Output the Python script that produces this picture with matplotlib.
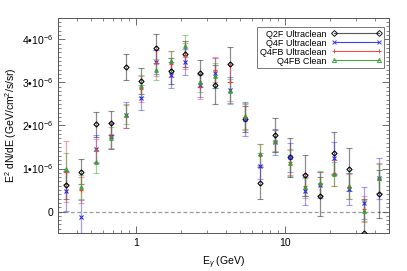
import numpy as np
import matplotlib
matplotlib.use("Agg")
import matplotlib.pyplot as plt
from matplotlib.lines import Line2D
from matplotlib.ticker import FixedLocator, FuncFormatter, MultipleLocator, NullFormatter

plt.rcParams['font.family'] = ['Liberation Sans', 'DejaVu Sans']
plt.rcParams['mathtext.fontset'] = 'custom'
plt.rcParams['mathtext.rm'] = 'Liberation Sans'
plt.rcParams['mathtext.it'] = 'Liberation Sans:italic'

## Energy bin centres (GeV)
energy = [0.34, 0.43, 0.54, 0.68, 0.86, 1.08, 1.36, 1.71, 2.15, 2.71, 3.41,
          4.29, 5.40, 6.80, 8.56, 10.8, 13.6, 17.1, 21.5, 27.1, 34.1, 42.9]

## E^2 dN/dE in units of 1e-6 GeV/cm^2/s/sr
q2f_val = [0.61, 0.93, 2.03, 2.06, 3.35, 3.03, 3.79, 3.27, 3.67, 3.21, 2.95,
           3.42, 2.15, 0.66, 1.78, 1.26, 0.84, 0.35, 1.36, 0.98, -0.50, 0.41]
q2f_err = [0.33, 0.30, 0.29, 0.28, 0.30, 0.30, 0.33, 0.30, 0.30, 0.32, 0.45,
           0.40, 0.30, 0.38, 0.40, 0.45, 0.48, 0.45, 0.48, 0.50, 0.80, 0.55]

q4f_val = [0.47, -0.12, 1.45, 1.76, 2.25, 2.65, 3.48, 3.18, 3.47, 2.93, 3.22,
           2.83, 2.15, 1.05, 1.62, 1.26, 0.48, 0.61, 1.24, 0.52, 0.19, 0.77]
q4f_err = [0.45, 0.38, 0.33, 0.30, 0.30, 0.30, 0.28, 0.30, 0.30, 0.27, 0.35,
           0.30, 0.40, 0.30, 0.30, 0.33, 0.32, 0.30, 0.38, 0.37, 0.37, 0.47]

q4fbu_val = [0.93, 0.50, 1.42, 1.75, 2.22, 2.85, 3.45, 3.42, 3.62, 2.90, 3.30,
             3.00, 2.20, 1.32, 1.65, 1.15, 0.60, 0.65, 0.90, 0.58, 0.05, 0.78]
q4fbu_err = [0.70, 0.30, 0.27, 0.30, 0.28, 0.30, 0.30, 0.30, 0.30, 0.28, 0.30,
             0.42, 0.30, 0.26, 0.25, 0.30, 0.28, 0.28, 0.30, 0.30, 0.30, 0.35]

q4fbc_val = [1.00, 0.56, 1.15, 1.72, 2.25, 2.92, 3.30, 3.50, 3.85, 3.00, 3.16,
             2.79, 2.22, 1.33, 1.64, 1.12, 0.57, 0.66, 0.87, 0.59, 0.02, 0.77]
q4fbc_err = [0.36, 0.28, 0.25, 0.25, 0.22, 0.25, 0.25, 0.22, 0.25, 0.22, 0.30,
             0.30, 0.30, 0.25, 0.25, 0.30, 0.22, 0.28, 0.28, 0.30, 0.25, 0.33]

labels = ['Q2F Ultraclean', 'Q4F Ultraclean', 'Q4FB Ultraclean', 'Q4FB Clean']
colors = ['black', '#2a2af0', '#f03c3c', '#2ca02c']
markers = ['D', 'x', '+', '^']
series = [(q2f_val, q2f_err), (q4f_val, q4f_err),
          (q4fbu_val, q4fbu_err), (q4fbc_val, q4fbc_err)]

fig = plt.figure(figsize=(4.07, 2.71), dpi=100)
ax = fig.add_axes([0.1425, 0.140, 0.8135, 0.794])

ax.axhline(0, color='#999999', lw=0.9, ls=(0, (3, 2)), zorder=1)

for (val, err), col, mk in zip(series, colors, markers):
    y = np.array(val) * 1e-6
    e = np.array(err) * 1e-6
    ax.errorbar(energy, y, yerr=e, fmt='none', ecolor=col, alpha=0.45,
                elinewidth=0.9, capsize=2.2, capthick=0.8, zorder=2)
    filled = 'none' if mk in ('D', '^') else col
    ax.plot(energy, y, ls='none', marker=mk, ms=2.6, mew=0.8,
            mec=col, mfc=filled, zorder=3)

ax.set_xscale('log')
ax.set_xlim(0.3, 50)
ax.set_ylim(-0.5e-6, 4.5e-6)

ax.xaxis.set_major_locator(FixedLocator([1, 10]))
ax.xaxis.set_major_formatter(FuncFormatter(lambda v, p: f"{v:g}"))
minors = [0.3, 0.4, 0.5, 0.6, 0.7, 0.8, 0.9, 2, 3, 4, 5, 6, 7, 8, 9, 20, 30, 40, 50]
ax.xaxis.set_minor_locator(FixedLocator(minors))
ax.xaxis.set_minor_formatter(NullFormatter())

ax.yaxis.set_major_locator(MultipleLocator(1e-6))
ax.yaxis.set_minor_locator(MultipleLocator(1e-7))


def yfmt(v, p):
    n = int(round(v / 1e-6))
    if n == 0:
        return "0"
    return f"{n}\u202210$^{{-6}}$"


ax.yaxis.set_major_formatter(FuncFormatter(yfmt))

ax.tick_params(which='both', direction='in', top=True, right=True,
               labelsize=7.5, color='#555555')
ax.tick_params(which='major', length=5, width=0.6)
ax.tick_params(which='minor', length=2.5, width=0.5)
for s in ax.spines.values():
    s.set_color('#555555')
    s.set_linewidth(0.7)

ax.set_xlabel(r'E$_\gamma$ (GeV)', fontsize=7.5, labelpad=5)
ax.set_ylabel(r'E$^2$ dN/dE (GeV/cm$^2$/s/sr)', fontsize=7.5, labelpad=2)

handles = []
for lab, col, mk in zip(labels, colors, markers):
    filled = 'none' if mk in ('D', '^') else col
    lc = col if col != 'black' else '#444444'
    handles.append(Line2D([], [], color=lc, lw=0.8, alpha=0.9, marker=mk, ms=3,
                          mew=0.7, mec=col, mfc=filled, label=lab))
leg = ax.legend(handles=handles, loc='upper right',
                bbox_to_anchor=(0.985, 0.958), numpoints=2, markerfirst=False,
                handlelength=5.6, handletextpad=0.5, fontsize=6.5,
                labelspacing=0.0, borderpad=0.3, fancybox=False,
                framealpha=1, edgecolor='#777777', borderaxespad=0)
leg.get_frame().set_linewidth(0.7)

fig.savefig('out.png', dpi=100)
